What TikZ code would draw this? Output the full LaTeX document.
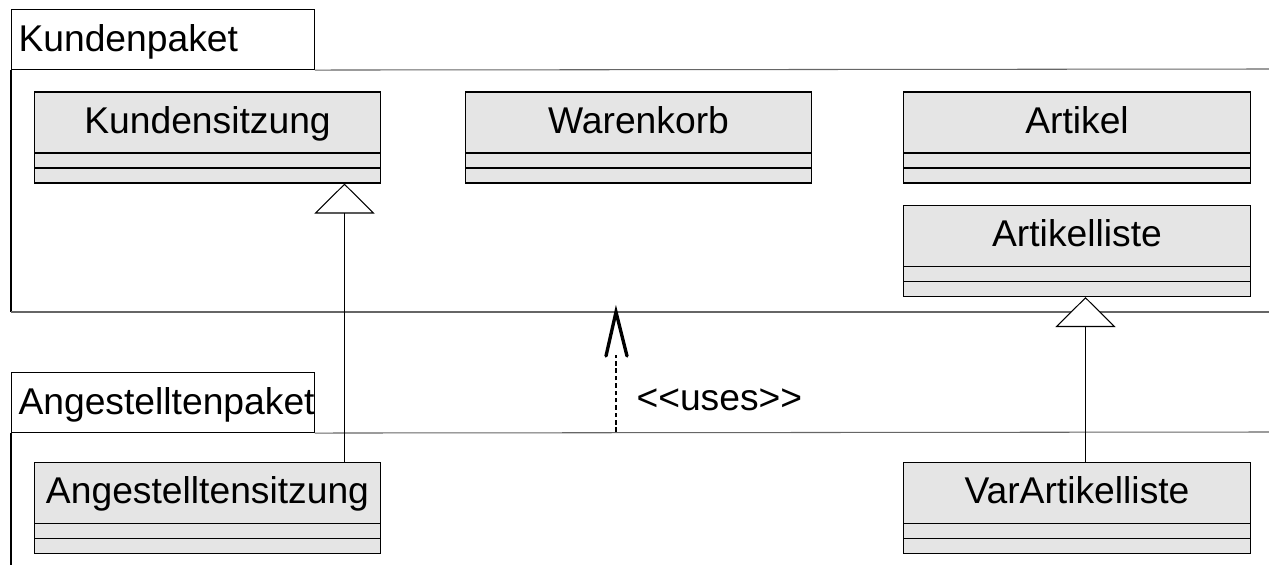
\documentclass[tikz,border=0pt]{standalone}
\usepackage{fontspec}
\setmainfont{Liberation Sans}
\usepackage{tikz}
\usetikzlibrary{arrows.meta}

\tikzset{
  classbox/.style={draw, fill=black!10, minimum width=6.94cm, minimum height=1.82cm, inner sep=0pt,
    path picture={
      \draw ([yshift=0.6cm]path picture bounding box.south west) -- ([yshift=0.6cm]path picture bounding box.south east);
      \draw ([yshift=0.3cm]path picture bounding box.south west) -- ([yshift=0.3cm]path picture bounding box.south east);
    },
    label={[textline, yshift=0.3cm]center:#1}},
  textline/.style={text height=17pt, text depth=4.9pt, inner sep=0pt},
  pkgtab/.style={draw, anchor=north west, minimum width=6.06cm, minimum height=1.2cm, inner sep=0pt,
    label={[textline, anchor=west, xshift=0.14cm, yshift=-0.02cm]west:#1}},
  pkgline/.style={draw=black!60},
  inherit/.style={-{Triangle[length=0.6cm, width=1.2cm, fill=white]}},
  usesline/.style={dash pattern=on 2.6pt off 1.6pt},
  usesbarb/.style={line width=1.9pt, line cap=round, line join=miter}
}

\begin{document}
\begin{tikzpicture}[x=0.02cm, y=-0.02cm, line width=0.6pt, font=\fontsize{21.2pt}{25pt}\selectfont]
     \useasboundingbox (0,0) rectangle (1269,565);

     % Kundenpaket
     \node[pkgtab=Kundenpaket] (kptab) at (11,9) {};
     \coordinate (kpright) at (1269,69);
     \coordinate (kpbottom) at (616,312);
     \draw[pkgline] (kptab.south east) -- (kpright);
     \draw (kptab.south west) -- (11,312);
     \draw[pkgline] (11,312) -- (1269,312);

     % Angestelltenpaket
     \node[pkgtab=Angestelltenpaket] (aptab) at (11,372) {};
     \coordinate (apright) at (1269,432);
     \coordinate (aptop) at (616,432);
     \draw[pkgline] (aptab.south east) -- (apright);
     \draw (aptab.south west) -- (11,565);

     % classes
     \node[classbox=Kundensitzung] (ks) at (207.5,137.5) {};
     \node[classbox=Warenkorb] (wk) at (638.5,137.5) {};
     \node[classbox=Artikel] (ar) at (1077,137.5) {};
     \node[classbox=Artikelliste] (al) at (1077,251) {};
     \node[classbox=Angestelltensitzung] (as) at (207.5,508) {};
     \node[classbox=VarArtikelliste] (val) at (1077,508) {};

     % generalisation
     \draw[inherit] ([xshift=-0.74cm]as.north east) -- ([xshift=-0.74cm]ks.south east);
     \draw[inherit] ([xshift=0.17cm]val.north) -- ([xshift=0.17cm]al.south);

     % dependency
     \draw[usesline] (aptop) -- ([yshift=-0.86cm]kpbottom)
          node[pos=0.42, right=0.4cm, textline] (uses) {<\kern0pt<uses>\kern0pt>};
     \draw[usesbarb] ([shift={(-0.2cm,-0.88cm)}]kpbottom) -- (kpbottom) -- ([shift={(0.22cm,-0.88cm)}]kpbottom);

\end{tikzpicture}
\end{document}
